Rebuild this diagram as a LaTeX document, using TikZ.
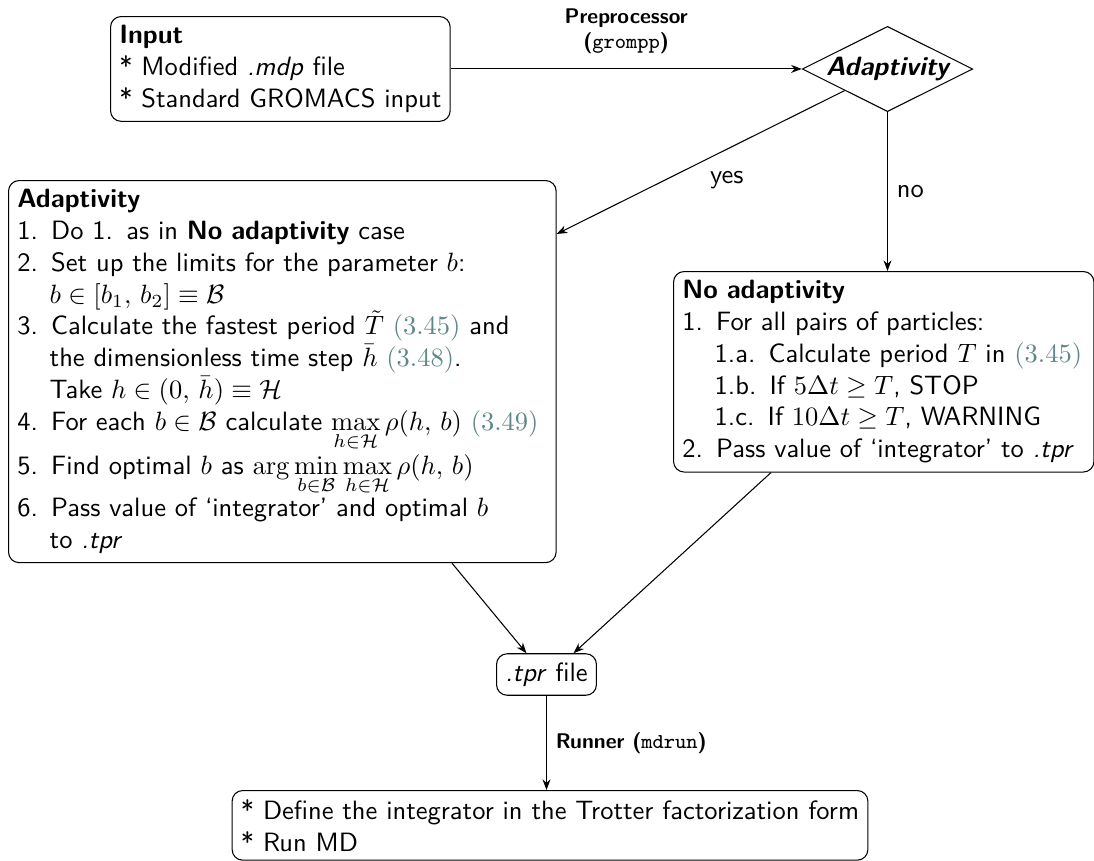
\documentclass[tikz,border=0pt]{standalone}
\usetikzlibrary{shapes.geometric,arrows.meta,calc}
\usepackage{amsmath,amssymb}
\definecolor{refc}{RGB}{95,135,135}
\newcommand\eqr[1]{\textcolor{refc}{$(#1)$}}
\newcommand\ind{\hspace*{1.22em}}
\begin{document}
\begin{tikzpicture}[x=0.3774pt,y=-0.3774pt,
  font=\sffamily,
  box/.style={draw, rounded corners=4pt, align=left, inner sep=0.3333em},
  dec/.style={draw, diamond, aspect=2, inner sep=0pt, font=\sffamily\bfseries\itshape},
  arr/.style={-{Stealth[length=4pt,width=3pt]}},
  lab/.style={font=\sffamily\footnotesize\bfseries},
]
\path[use as bounding box] (0,0) rectangle (1094,860);

\node[box, anchor=north west] (input) at (110,16)
  {\textbf{Input}\\
   * Modified \textit{.mdp} file\\
   * Standard GROMACS input};

\node[dec] (dia) at (887.5,69) {Adaptivity};

\node[box, anchor=north west, text width=200pt] (adapt) at (8,180)
  {\textbf{Adaptivity}\\
   1. Do 1. as in \textbf{No adaptivity} case\\
   2. Set up the limits for the parameter $b$:\\
   \ind $b\in[b_1,\,b_2]\equiv\mathcal{B}$\\
   3. Calculate the fastest period $\tilde{T}$ \eqr{3.45} and\\
   \ind the dimensionless time step $\bar{h}$ \eqr{3.48}.\\
   \ind Take $h\in(0,\,\bar{h})\equiv\mathcal{H}$\\
   4. For each $b\in\mathcal{B}$ calculate $\max\limits_{h\in\mathcal{H}}\rho(h,\,b)$ \eqr{3.49}\\
   5. Find optimal $b$ as $\arg\min\limits_{b\in\mathcal{B}}\max\limits_{h\in\mathcal{H}}\rho(h,\,b)$\\
   6. Pass value of ‘integrator’ and optimal $b$\\
   \ind to \textit{.tpr}};

\node[box, anchor=north west, text width=152pt] (noad) at (673,271)
  {\textbf{No adaptivity}\\
   1. For all pairs of particles:\\
   \ind\mbox{1.a. Calculate period $T$ in \eqr{3.45}}\\
   \ind 1.b. If $5\Delta t\geq T$, STOP\\
   \ind 1.c. If $10\Delta t\geq T$, WARNING\\
   \mbox{2. Pass value of ‘integrator’ to \textit{.tpr}}};

\node[box] (tpr) at (546.5,674.5) {\textit{.tpr} file};

\node[box, anchor=north] (final) at (550,790)
  {* Define the integrator in the Trotter factorization form\\
   * Run MD};

\draw[arr] (input.east) -- node[lab, above, align=center, yshift=2pt]{Preprocessor\\(\textmd{\texttt{grompp}})} (input.east -| dia.west);
\draw[arr] ($(dia.west)!0.5!(dia.south)$) -- node[midway, below right]{yes} ($(adapt.north east)+(0,54)$);
\draw[arr] (dia.south) -- node[midway, right]{no} (dia.south |- noad.north);
\draw[arr] ($(adapt.south west)+(444,0)$) -- ($(tpr.north)+(-20,0)$);
\draw[arr] ($(noad.south west)+(98,0)$) -- ($(tpr.north)+(27,0)$);
\draw[arr] (tpr.south) -- node[lab, midway, right]{Runner (\textmd{\texttt{mdrun}})} (tpr.south |- final.north);
\end{tikzpicture}
\end{document}
